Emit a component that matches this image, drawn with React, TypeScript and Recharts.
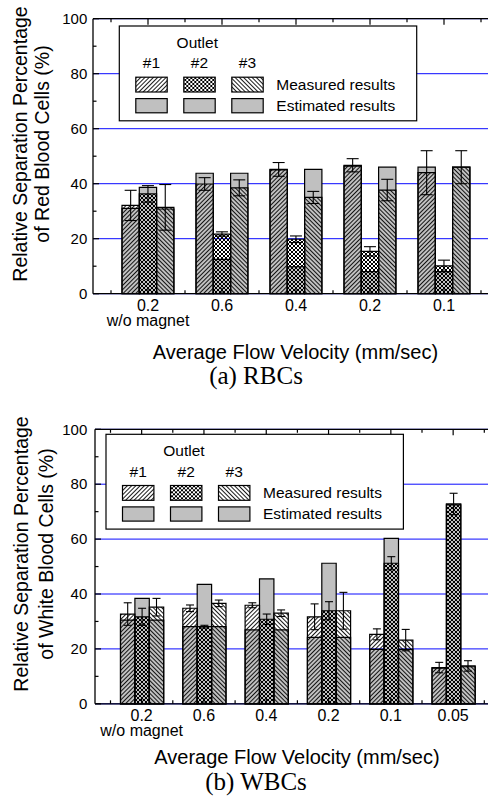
import React from 'react';
import { BarChart, Bar, XAxis, YAxis, CartesianGrid, ErrorBar } from 'recharts';

// ---------- Data: (a) RBCs ----------
const categoriesA = ['0.2\nw/o magnet', '0.6', '0.4', '0.2', '0.1'];
const measuredA1 = [32.1, 39.9, 45.2, 46.7, 44.0];
const measuredA2 = [36.3, 21.7, 19.8, 15.4, 10.1];
const measuredA3 = [31.4, 38.5, 35.0, 37.7, 46.0];
const errorA1 = [5.5, 2.3, 2.5, 2.4, 8.0];
const errorA2 = [3.0, 0.8, 1.2, 1.7, 2.1];
const errorA3 = [8.3, 2.9, 2.2, 3.9, 6.0];
const estimatedA1 = [31.0, 43.8, 45.0, 46.4, 46.0];
const estimatedA2 = [38.7, 12.5, 9.8, 8.0, 8.0];
const estimatedA3 = [30.8, 43.8, 45.2, 46.0, 46.0];

// ---------- Data: (b) WBCs ----------
const categoriesB = ['0.2\nw/o magnet', '0.6', '0.4', '0.2', '0.1', '0.05'];
const measuredB1 = [32.7, 34.8, 35.9, 31.7, 25.3, 13.2];
const measuredB2 = [31.7, 28.1, 30.8, 33.9, 51.2, 72.8];
const measuredB3 = [35.2, 36.6, 33.0, 33.9, 23.2, 13.8];
const errorB1 = [4.1, 1.2, 0.9, 4.7, 2.0, 1.9];
const errorB2 = [3.1, 0.5, 1.9, 3.3, 2.4, 3.9];
const errorB3 = [3.2, 1.2, 1.2, 6.7, 3.9, 1.9];
const estimatedB1 = [30.5, 28.1, 26.9, 24.2, 19.8, 13.0];
const estimatedB2 = [38.4, 43.5, 45.5, 51.2, 60.3, 72.5];
const estimatedB3 = [30.5, 28.1, 26.9, 24.2, 19.8, 13.5];

const yTicks = [0, 20, 40, 60, 80, 100];

const buildData = (
  cats: string[],
  m1: number[], m2: number[], m3: number[],
  e1: number[], e2: number[], e3: number[],
  s1: number[], s2: number[], s3: number[]
) =>
  cats.map((c, i) => ({
    cat: c,
    m1: m1[i], m2: m2[i], m3: m3[i],
    err1: e1[i], err2: e2[i], err3: e3[i],
    s1: s1[i], s2: s2[i], s3: s3[i],
  }));

const dataA = buildData(categoriesA, measuredA1, measuredA2, measuredA3, errorA1, errorA2, errorA3, estimatedA1, estimatedA2, estimatedA3);
const dataB = buildData(categoriesB, measuredB1, measuredB2, measuredB3, errorB1, errorB2, errorB3, estimatedB1, estimatedB2, estimatedB3);

const SANS = '"Liberation Sans", Arial, sans-serif';
const SERIF = '"Liberation Serif", "Times New Roman", serif';
const GRAY = '#c0c0c0';
const AX = '#000';

const makeXTick = (half: number, top: boolean) => (props: any) => {
  const { x, y, payload, index } = props;
  const dir = top ? 1 : -1;
  const lines = String(payload.value).split('\n');
  return (
    <g>
      <line x1={x} x2={x} y1={y} y2={y + dir * 6} stroke={AX} strokeWidth={1.2} />
      <line x1={x + half} x2={x + half} y1={y} y2={y + dir * 3.5} stroke={AX} strokeWidth={1.2} />
      {index === 0 && (
        <line x1={x - half} x2={x - half} y1={y} y2={y + dir * 3.5} stroke={AX} strokeWidth={1.2} />
      )}
      {!top &&
        lines.map((l, i) => (
          <text key={i} x={x} y={y + 11.3 + i * 15.7} dy="0.35em" textAnchor="middle" fontSize={16} fontFamily={SANS} fill="#000">
            {l}
          </text>
        ))}
    </g>
  );
};

const makeYTick = (halfPx: number, gap: number) => (props: any) => {
  const { x, y, payload } = props;
  return (
    <g>
      <line x1={x} x2={x + 6} y1={y} y2={y} stroke={AX} strokeWidth={1.2} />
      {payload.value < 100 && (
        <line x1={x} x2={x + 3.5} y1={y - halfPx} y2={y - halfPx} stroke={AX} strokeWidth={1.2} />
      )}
      <text x={x - gap} y={y} dy="0.35em" textAnchor="end" fontSize={15} fontFamily={SANS} fill="#000">
        {payload.value}
      </text>
    </g>
  );
};

type PanelProps = {
  data: any[];
  width: number;
  height: number;
  margin: any;
  yWidth: number;
  bottomH: number;
  padding: { left: number; right: number };
  barSize: number;
  half: number;
  yHalf: number;
  yGap: number;
  capW: number;
};

const Panel = (p: PanelProps) => (
  <BarChart width={p.width} height={p.height} data={p.data} margin={p.margin} barGap={0} barSize={p.barSize}>
    <CartesianGrid xAxisId="bot" horizontal vertical={false} stroke="#0a0aff" strokeWidth={1} />
    <XAxis
      xAxisId="bot"
      dataKey="cat"
      type="category"
      orientation="bottom"
      height={p.bottomH}
      padding={p.padding}
      interval={0}
      tickSize={0}
      tickMargin={0}
      tickLine={false}
      axisLine={{ stroke: AX, strokeWidth: 1.3 }}
      tick={makeXTick(p.half, false)}
    />
    <XAxis
      xAxisId="top"
      dataKey="cat"
      type="category"
      orientation="top"
      height={10}
      padding={p.padding}
      interval={0}
      tickSize={0}
      tickMargin={0}
      tickLine={false}
      axisLine={{ stroke: AX, strokeWidth: 1.3 }}
      tick={makeXTick(p.half, true)}
    />
    <YAxis
      type="number"
      domain={[0, 100]}
      ticks={yTicks}
      interval={0}
      width={p.yWidth}
      tickSize={0}
      tickMargin={0}
      tickLine={false}
      axisLine={{ stroke: AX, strokeWidth: 1.3 }}
      tick={makeYTick(p.yHalf, p.yGap)}
    />
    <Bar xAxisId="bot" dataKey="s1" fill={GRAY} stroke="#000" strokeWidth={1.2} isAnimationActive={false} />
    <Bar xAxisId="bot" dataKey="s2" fill={GRAY} stroke="#000" strokeWidth={1.2} isAnimationActive={false} />
    <Bar xAxisId="bot" dataKey="s3" fill={GRAY} stroke="#000" strokeWidth={1.2} isAnimationActive={false} />
    <Bar xAxisId="top" dataKey="m1" fill="url(#pat1)" stroke="#000" strokeWidth={1.2} isAnimationActive={false}>
      <ErrorBar dataKey="err1" width={p.capW} stroke="#000" strokeWidth={1.1} direction="y" isAnimationActive={false} />
    </Bar>
    <Bar xAxisId="top" dataKey="m2" fill="url(#pat2)" stroke="#000" strokeWidth={1.2} isAnimationActive={false}>
      <ErrorBar dataKey="err2" width={p.capW} stroke="#000" strokeWidth={1.1} direction="y" isAnimationActive={false} />
    </Bar>
    <Bar xAxisId="top" dataKey="m3" fill="url(#pat3)" stroke="#000" strokeWidth={1.2} isAnimationActive={false}>
      <ErrorBar dataKey="err3" width={p.capW} stroke="#000" strokeWidth={1.1} direction="y" isAnimationActive={false} />
    </Bar>
  </BarChart>
);

const LegendBox = ({ x, y }: { x: number; y: number }) => {
  const sw = [16.5, 64.5, 112.5];
  const pats = ['pat1', 'pat2', 'pat3'];
  return (
    <g transform={`translate(${x},${y})`}>
      <rect x={0} y={0} width={297.4} height={94.8} fill="#fff" stroke="#000" strokeWidth={1.2} />
      <text x={78} y={16.5} dy="0.35em" textAnchor="middle" fontSize={15.5} fontFamily={SANS}>Outlet</text>
      {sw.map((sx, i) => (
        <text key={'t' + i} x={sx + 15.7} y={37} dy="0.35em" textAnchor="middle" fontSize={15.5} fontFamily={SANS}>
          {'#' + (i + 1)}
        </text>
      ))}
      {sw.map((sx, i) => (
        <g key={'m' + i}>
          <rect x={sx} y={51.2} width={31.4} height={14.8} fill="#fff" />
          <rect x={sx} y={51.2} width={31.4} height={14.8} fill={`url(#${pats[i]})`} stroke="#000" strokeWidth={1.2} />
        </g>
      ))}
      {sw.map((sx, i) => (
        <rect key={'e' + i} x={sx} y={72.6} width={31.4} height={14.2} fill={GRAY} stroke="#000" strokeWidth={1.2} />
      ))}
      <text x={157} y={58.5} dy="0.35em" fontSize={15.5} fontFamily={SANS}>Measured results</text>
      <text x={157} y={79.7} dy="0.35em" fontSize={15.5} fontFamily={SANS}>Estimated results</text>
    </g>
  );
};

const YTitle = ({ x1, x2, cy, l1, l2 }: { x1: number; x2: number; cy: number; l1: string; l2: string }) => (
  <g>
    <text x={x1} y={cy} dy="0.35em" textAnchor="middle" fontSize={19.5} fontFamily={SANS} transform={`rotate(-90, ${x1}, ${cy})`}>
      {l1}
    </text>
    <text x={x2} y={cy} dy="0.35em" textAnchor="middle" fontSize={19.5} fontFamily={SANS} transform={`rotate(-90, ${x2}, ${cy})`}>
      {l2}
    </text>
  </g>
);

export default function App() {
  return (
    <div style={{ position: 'fixed', left: 0, top: 0, width: 488, height: 799, overflow: 'hidden', background: '#fff' }}>
      <svg width={0} height={0} style={{ position: 'absolute' }}>
        <defs>
          <pattern id="pat1" patternUnits="userSpaceOnUse" width={3} height={3} patternTransform="rotate(45)">
            <line x1={0.5} y1={0} x2={0.5} y2={3} stroke="#000" strokeWidth={0.9} />
          </pattern>
          <pattern id="pat3" patternUnits="userSpaceOnUse" width={3} height={3} patternTransform="rotate(-45)">
            <line x1={0.5} y1={0} x2={0.5} y2={3} stroke="#000" strokeWidth={0.9} />
          </pattern>
          <pattern id="pat2" patternUnits="userSpaceOnUse" width={4} height={4}>
            <path d="M0,0 L4,4 M4,0 L0,4" stroke="#000" strokeWidth={1.0} />
          </pattern>
        </defs>
      </svg>
      <div style={{ position: 'absolute', left: 0, top: 0 }}>
        <Panel
          data={dataA}
          width={520}
          height={400}
          margin={{ top: 8.7, right: 22, bottom: 0, left: 0 }}
          yWidth={93}
          bottomH={106.3}
          padding={{ left: 18, right: 17 }}
          barSize={17.3}
          half={37}
          yHalf={27.5}
          yGap={5.7}
          capW={6}
        />
      </div>
      <div style={{ position: 'absolute', left: 0, top: 400 }}>
        <Panel
          data={dataB}
          width={520}
          height={399}
          margin={{ top: 19.3, right: 20, bottom: 0, left: 0 }}
          yWidth={95}
          bottomH={95.2}
          padding={{ left: 15.5, right: 15.7 }}
          barSize={14.4}
          half={31.15}
          yHalf={27.45}
          yGap={7.7}
          capW={4}
        />
      </div>
      <svg width={488} height={799} style={{ position: 'absolute', left: 0, top: 0, pointerEvents: 'none' }}>
        <LegendBox x={119.3} y={26} />
        <LegendBox x={106} y={434.3} />
        <YTitle x1={20} x2={42} cy={144} l1="Relative Separation Percentage" l2="of Red Blood Cells (%)" />
        <YTitle x1={21} x2={46} cy={554} l1="Relative Separation Percentage" l2="of White Blood Cells (%)" />
        <text x={295.5} y={351.7} dy="0.35em" textAnchor="middle" fontSize={20} fontFamily={SANS}>Average Flow Velocity (mm/sec)</text>
        <text x={297} y={756.7} dy="0.35em" textAnchor="middle" fontSize={20} fontFamily={SANS}>Average Flow Velocity (mm/sec)</text>
        <text x={256} y={375} dy="0.35em" textAnchor="middle" fontSize={25} fontFamily={SERIF}>(a) RBCs</text>
        <text x={256} y={781.7} dy="0.35em" textAnchor="middle" fontSize={25} fontFamily={SERIF}>(b) WBCs</text>
      </svg>
    </div>
  );
}
